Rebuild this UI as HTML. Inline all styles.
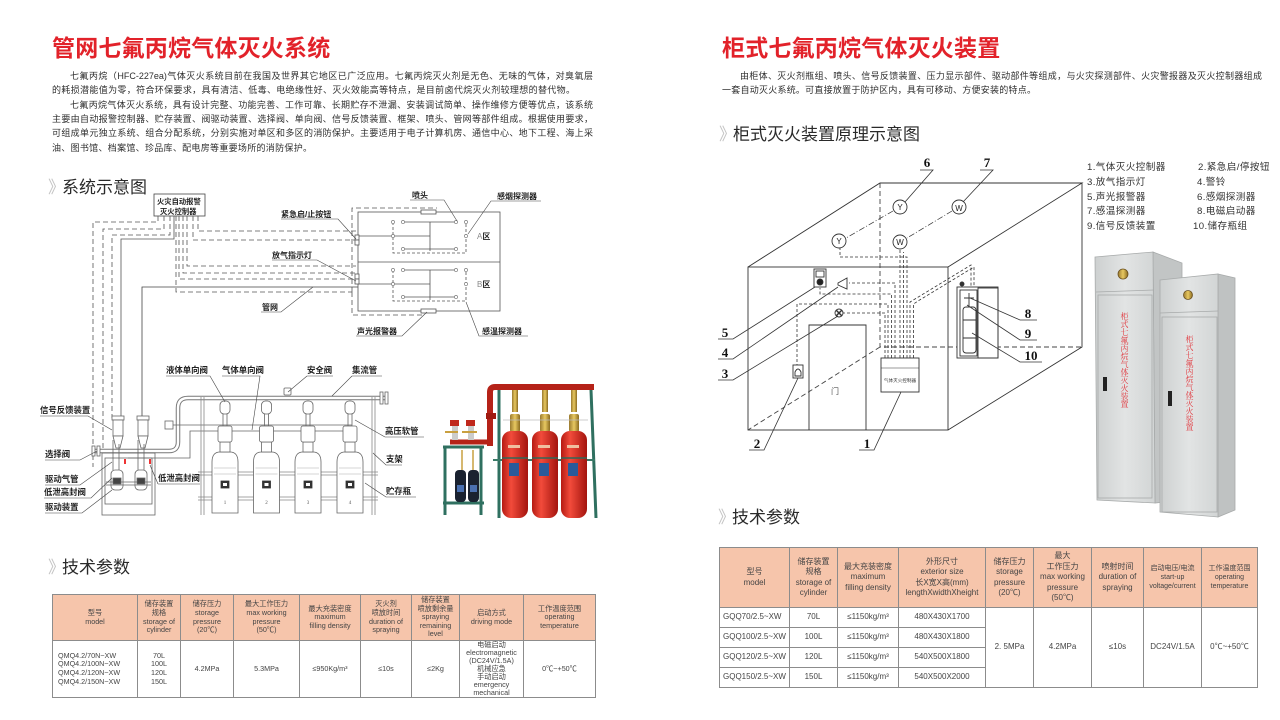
<!DOCTYPE html>
<html><head><meta charset="utf-8">
<style>
*{margin:0;padding:0;box-sizing:border-box}
body{width:1280px;height:720px;background:#fff;position:relative;overflow:hidden;font-family:"Liberation Sans","Noto Sans CJK SC",sans-serif;color:#333}
.title{position:absolute;top:35px;font-size:23px;font-weight:bold;color:#e2222a;line-height:26px;white-space:nowrap;letter-spacing:0.2px}
.pl{position:absolute;font-size:9px;line-height:11px;height:11px;color:#2e2e2e;white-space:nowrap;text-align:justify;text-align-last:justify}
.sec{position:absolute;font-size:17px;line-height:20px;color:#2a2a2a;white-space:nowrap}
.sec b{font-weight:normal;color:#c4c4c4;margin-right:-3px}
table{position:absolute;border-collapse:collapse;table-layout:fixed}
td{border:1px solid #8c8c8c;text-align:center;vertical-align:middle;color:#444;padding:0;white-space:nowrap;overflow:hidden}
.t1 td{font-size:7.2px;line-height:8.6px}
.t1 tr.h td{background:#f6c5ab;height:46px}
.t1 tr.b td{height:57px}
.t2 td{font-size:8px;line-height:10.5px}
.t2 tr.h td{background:#f6c5ab;height:60px}
.t2 tr.b td{height:20px}
.sm{font-size:7px!important;line-height:9px!important}
.lg{position:absolute;font-size:9.6px;line-height:12px;color:#333;white-space:nowrap;letter-spacing:0.4px}
.vt{position:absolute;writing-mode:vertical-rl;font-family:"Liberation Serif","Noto Serif CJK SC",serif;font-size:8px;line-height:8px;color:#e0343a;letter-spacing:0}
</style></head><body>

<div class="title" style="left:52px">管网七氟丙烷气体灭火系统</div>
<div class="title" style="left:722px">柜式七氟丙烷气体灭火装置</div>

<div class="pl" style="left:70px;top:71px;width:523px">七氟丙烷（HFC-227ea)气体灭火系统目前在我国及世界其它地区已广泛应用。七氟丙烷灭火剂是无色、无味的气体，对臭氧层</div>
<div class="pl" style="left:52px;top:85px;width:523px">的耗损潜能值为零，符合环保要求，具有清洁、低毒、电绝缘性好、灭火效能高等特点，是目前卤代烷灭火剂较理想的替代物。</div>
<div class="pl" style="left:70px;top:100px;width:523px">七氟丙烷气体灭火系统，具有设计完整、功能完善、工作可靠、长期贮存不泄漏、安装调试简单、操作维修方便等优点，该系统</div>
<div class="pl" style="left:52px;top:114px;width:541px">主要由自动报警控制器、贮存装置、阀驱动装置、选择阀、单向阀、信号反馈装置、框架、喷头、管网等部件组成。根据使用要求，</div>
<div class="pl" style="left:52px;top:128px;width:541px">可组成单元独立系统、组合分配系统，分别实施对单区和多区的消防保护。主要适用于电子计算机房、通信中心、地下工程、海上采</div>
<div class="pl" style="left:52px;top:143px;width:260px">油、图书馆、档案馆、珍品库、配电房等重要场所的消防保护。</div>

<div class="pl" style="left:740px;top:71px;width:522px">由柜体、灭火剂瓶组、喷头、信号反馈装置、压力显示部件、驱动部件等组成，与火灾探测部件、火灾警报器及灭火控制器组成</div>
<div class="pl" style="left:722px;top:85px;width:314px">一套自动灭火系统。可直接放置于防护区内，具有可移动、方便安装的特点。</div>

<div class="sec" style="left:48px;top:178px"><b>》</b>系统示意图</div>
<div class="sec" style="left:719px;top:125px"><b>》</b>柜式灭火装置原理示意图</div>
<div class="sec" style="left:48px;top:558px"><b>》</b>技术参数</div>
<div class="sec" style="left:718px;top:508px"><b>》</b>技术参数</div>

<!-- legend -->
<div class="lg" style="left:1087px;top:162px">1.气体灭火控制器</div>
<div class="lg" style="left:1198px;top:162px">2.紧急启/停按钮</div>
<div class="lg" style="left:1087px;top:177px">3.放气指示灯</div>
<div class="lg" style="left:1197px;top:177px">4.警铃</div>
<div class="lg" style="left:1087px;top:192px">5.声光报警器</div>
<div class="lg" style="left:1197px;top:192px">6.感烟探测器</div>
<div class="lg" style="left:1087px;top:206px">7.感温探测器</div>
<div class="lg" style="left:1197px;top:206px">8.电磁启动器</div>
<div class="lg" style="left:1087px;top:221px">9.信号反馈装置</div>
<div class="lg" style="left:1193px;top:221px">10.储存瓶组</div>

<svg width="1280" height="720" style="position:absolute;left:0;top:0" xmlns="http://www.w3.org/2000/svg">
<defs>
<linearGradient id="red" x1="0" x2="1"><stop offset="0" stop-color="#b51a12"/><stop offset="0.35" stop-color="#f24b3b"/><stop offset="1" stop-color="#a3140e"/></linearGradient>
<linearGradient id="cab" x1="0" x2="1"><stop offset="0" stop-color="#cdd0d0"/><stop offset="0.5" stop-color="#e2e4e4"/><stop offset="1" stop-color="#d2d5d5"/></linearGradient>
<linearGradient id="gold" x1="0" x2="1"><stop offset="0" stop-color="#9a7a30"/><stop offset="0.5" stop-color="#e8c860"/><stop offset="1" stop-color="#8a6a20"/></linearGradient>
</defs>

<!-- ============ LEFT UPPER DIAGRAM ============ -->
<g stroke="#555" stroke-width="0.8" fill="none">
 <rect x="154" y="194" width="51" height="22" stroke="#444" fill="#fff"/>
 <g stroke-dasharray="5,3">
  <path d="M158 216V222H93V467"/>
  <path d="M164 216V229H103V453"/>
  <path d="M170 216V235H112V418"/>
  <path d="M198 216V231H356"/>
  <path d="M193 216V240H356"/>
  <path d="M187 216V266H356"/>
  <path d="M183 216V273H356"/>
  <path d="M179 216V279H356"/>
  <path d="M176 216V292H352"/>
  <path d="M352 292V315H425"/>
  <path d="M352 292V208H437"/>
 </g>
 <path d="M174 216V239H121V418"/>
 <path d="M142 418V287H358" stroke="#444"/>
 <!-- zone box -->
 <rect x="358" y="212" width="142" height="99"/>
 <line x1="358" y1="262" x2="500" y2="262"/>
 <path d="M358 236H430M430 222V251M358 284H430M430 270V300"/>
 <g stroke-dasharray="3,2">
  <path d="M393 222V253H466V222"/>
  <path d="M393 270V301H466V270"/>
 </g>
 <path d="M403 222H456M403 249H456M403 270H456M403 297H456"/>
 <g fill="#fff" stroke="#666" stroke-width="0.6">
  <circle cx="393" cy="222" r="1.6"/><circle cx="403" cy="222" r="1.6"/><circle cx="456" cy="222" r="1.6"/><circle cx="466" cy="222" r="1.6"/>
  <circle cx="393" cy="236" r="1.6"/><circle cx="466" cy="236" r="1.6"/><circle cx="403" cy="249" r="1.6"/><circle cx="456" cy="249" r="1.6"/>
  <circle cx="393" cy="270" r="1.6"/><circle cx="403" cy="270" r="1.6"/><circle cx="456" cy="270" r="1.6"/><circle cx="466" cy="270" r="1.6"/>
  <circle cx="393" cy="284" r="1.6"/><circle cx="466" cy="284" r="1.6"/><circle cx="403" cy="297" r="1.6"/><circle cx="456" cy="297" r="1.6"/>
 </g>
 <rect x="421" y="210" width="15" height="4" fill="#fff"/>
 <rect x="421" y="309" width="15" height="4" fill="#fff"/>
 <rect x="355" y="235" width="4" height="5" fill="#fff"/><rect x="355" y="240" width="4" height="5" fill="#fff"/>
 <rect x="355" y="274" width="4" height="5" fill="#fff"/><rect x="355" y="279" width="4" height="5" fill="#fff"/>
 <!-- leaders -->
 <g stroke="#444" stroke-width="0.6">
  <path d="M410 200H444L457 221"/>
  <path d="M541 201H491L468 234"/>
  <path d="M281 219H338L356 239"/>
  <path d="M272 260H317L356 281"/>
  <path d="M261 312H281L313 287"/>
  <path d="M356 336H402L427 312"/>
  <path d="M528 336H479L466 302"/>
 </g>
</g>
<g font-family="Liberation Sans, Noto Sans CJK SC, sans-serif" font-size="8" font-weight="bold" fill="#222">
 <text x="157" y="204" font-size="7.3">火灾自动报警</text>
 <text x="160" y="214" font-size="7.3">灭火控制器</text>
 <text x="412" y="198">喷头</text>
 <text x="497" y="199">感烟探测器</text>
 <text x="281" y="217">紧急启/止按钮</text>
 <text x="272" y="258">放气指示灯</text>
 <text x="262" y="310">管网</text>
 <text x="357" y="334">声光报警器</text>
 <text x="482" y="334">感温探测器</text>
 <text x="477" y="239"><tspan font-weight="normal" fill="#888">A</tspan>区</text>
 <text x="477" y="287"><tspan font-weight="normal" fill="#888">B</tspan>区</text>
</g>

<!-- ============ LEFT LOWER DIAGRAM ============ -->
<g stroke="#666" stroke-width="0.8" fill="none">
 <!-- collector pipe -->
 <path d="M386 398H188Q178 398 178 408V442Q178 451 169 451H95" stroke="#777" stroke-width="4.5"/>
 <path d="M386 398H188Q178 398 178 408V442Q178 451 169 451H95" stroke="#fff" stroke-width="2.5"/>
 <rect x="380" y="392" width="3" height="12" fill="#fff"/><rect x="385" y="392" width="3" height="12" fill="#fff"/>
 <rect x="92" y="446" width="3" height="10" fill="#fff"/><rect x="97" y="446" width="3" height="10" fill="#fff"/>
 <rect x="284" y="388" width="7" height="7" rx="1" fill="#fff"/>
 <!-- gas lines -->
 <path d="M352 425H167M352 431H190V458H128"/>
 <rect x="165" y="421" width="8" height="8" fill="#fff"/>
 <!-- frame -->
 <path d="M201 397V515M204 397V515M372 397V515M375 397V515" stroke="#888"/>
 <path d="M198 472H378M198 475H378M198 497H378M198 500H378" stroke="#888"/>
 <!-- cylinders -->
 <g id="cy" fill="#fff">
  <path d="M212 513V462Q212 452 220 452H230Q238 452 238 462V513Z"/>
  <rect x="220" y="442" width="10" height="10"/>
  <rect x="218" y="426" width="14" height="16" rx="2"/>
  <path d="M223 413V426M227 413V426"/>
  <rect x="220" y="401" width="10" height="13" rx="4"/>
  <path d="M214 468H236M214 474H236" stroke="#aaa" stroke-width="0.5"/>
  <rect x="221" y="481" width="8" height="7" fill="#333" stroke="#333"/>
  <rect x="223" y="483" width="4" height="3" fill="#fff" stroke="none"/>
 </g>
 <use href="#cy" x="41.5"/><use href="#cy" x="83"/><use href="#cy" x="125"/>
 <!-- selection valves -->
 <g fill="#fff">
  <rect x="112" y="416" width="12" height="4"/><rect x="113" y="420" width="10" height="16"/><path d="M113 436H123L120 448H116Z"/>
  <rect x="137" y="416" width="12" height="4"/><rect x="138" y="420" width="10" height="16"/><path d="M138 436H148L145 448H141Z"/>
 </g>
 <rect x="124" y="459" width="2" height="5" fill="#e33" stroke="none"/>
 <rect x="149" y="459" width="2" height="5" fill="#e33" stroke="none"/>
 <!-- drive device -->
 <rect x="102" y="453" width="53" height="62" fill="none"/>
 <rect x="105" y="458" width="47" height="46"/>
 <rect x="111" y="470" width="12" height="20" rx="4" fill="#fff"/>
 <rect x="135" y="470" width="12" height="20" rx="4" fill="#fff"/>
 <path d="M106 482H151M106 485H151"/>
 <rect x="113" y="478" width="8" height="6" fill="#444"/><rect x="137" y="478" width="8" height="6" fill="#444"/>
 <path d="M113 440V470M119 444V470M138 440V470M144 444V470"/>
 <!-- leaders -->
 <g stroke="#444" stroke-width="0.6">
  <path d="M166 376H210L225 402"/>
  <path d="M222 376H260L252 430"/>
  <path d="M307 376H333"/><path d="M307 376L288 392"/>
  <path d="M352 376H382"/><path d="M352 376L332 396"/>
  <path d="M40 416H88L112 430"/>
  <path d="M45 460H80L97 451"/>
  <path d="M45 485H80L112 462"/>
  <path d="M44 498H91L112 478"/>
  <path d="M45 513H82L112 490"/>
  <path d="M158 484H200M158 484L150 465"/>
  <path d="M424 437H385L355 420"/>
  <path d="M402 465H386L373 453"/>
  <path d="M416 497H386L365 483"/>
 </g>
</g>
<g font-family="Liberation Sans, Noto Sans CJK SC, sans-serif" font-size="8.4" font-weight="bold" fill="#222">
 <text x="166" y="373">液体单向阀</text>
 <text x="222" y="373">气体单向阀</text>
 <text x="307" y="373">安全阀</text>
 <text x="352" y="373">集流管</text>
 <text x="40" y="413">信号反馈装置</text>
 <text x="385" y="434">高压软管</text>
 <text x="45" y="457">选择阀</text>
 <text x="386" y="462">支架</text>
 <text x="45" y="482">驱动气管</text>
 <text x="158" y="481">低泄高封阀</text>
 <text x="44" y="495">低泄高封阀</text>
 <text x="386" y="494">贮存瓶</text>
 <text x="45" y="510">驱动装置</text>
</g>
<g font-family="Liberation Serif, serif" font-size="5" fill="#555" text-anchor="middle">
 <text x="225" y="504">1</text><text x="266.5" y="504">2</text><text x="308" y="504">3</text><text x="350" y="504">4</text>
</g>

<!-- ============ LEFT PHOTO ============ -->
<g>
 <!-- green frames -->
 <path d="M445 447V515M481 447V515M443 447H484M443 503H484" stroke="#2f7060" stroke-width="3" fill="none"/>
 <path d="M499 390V518M591 390L596 518" stroke="#2f7060" stroke-width="3" fill="none"/>
 <path d="M493 460H595" stroke="#3a7a68" stroke-width="2"/>
 <!-- red pipes -->
 <path d="M490 446V392Q490 387 495 387H594" stroke="#b52218" stroke-width="6" fill="none"/>
 <path d="M490 442H450" stroke="#b52218" stroke-width="5" fill="none"/>
 <rect x="486" y="413" width="10" height="6" fill="#a01a10"/>
 <!-- selection valves -->
 <rect x="450" y="420" width="9" height="6" fill="#c0281c"/><rect x="466" y="420" width="9" height="6" fill="#c0281c"/>
 <rect x="452" y="426" width="6" height="14" fill="#ccc"/><rect x="468" y="426" width="6" height="14" fill="#ccc"/>
 <path d="M445 432H458M462 432H477" stroke="#c9a040" stroke-width="2"/>
 <!-- small black cylinders -->
 <rect x="455" y="470" width="11" height="32" rx="4" fill="#1a2230"/>
 <rect x="468" y="470" width="11" height="32" rx="4" fill="#1a2230"/>
 <rect x="457" y="485" width="7" height="7" fill="#4a70b0"/><rect x="470" y="485" width="7" height="7" fill="#4a70b0"/>
 <path d="M462 470V450M473 470V450" stroke="#c9a040" stroke-width="1.5"/>
 <!-- brass hoses -->
 <g fill="url(#gold)">
  <rect x="512" y="390" width="6" height="22"/><rect x="542" y="390" width="6" height="22"/><rect x="571" y="390" width="6" height="22"/>
  <rect x="510" y="414" width="10" height="18" rx="2"/><rect x="540" y="414" width="10" height="18" rx="2"/><rect x="569" y="414" width="10" height="18" rx="2"/>
 </g>
 <path d="M503 420H588" stroke="#bbb" stroke-width="0.8"/>
 <!-- red cylinders -->
 <rect x="502" y="431" width="26" height="87" rx="9" fill="url(#red)"/>
 <rect x="532" y="431" width="26" height="87" rx="9" fill="url(#red)"/>
 <rect x="561" y="431" width="26" height="87" rx="9" fill="url(#red)"/>
 <g fill="#2a5a9a"><rect x="509" y="463" width="10" height="13"/><rect x="539" y="463" width="10" height="13"/><rect x="568" y="463" width="10" height="13"/></g>
 <g stroke="#2f6858" stroke-width="1.5"><path d="M502 458H528M532 458H558M561 458H587"/></g>
 <g fill="#f0c0a0"><rect x="508" y="445" width="12" height="3"/><rect x="538" y="445" width="12" height="3"/><rect x="567" y="445" width="12" height="3"/></g>
</g>

<!-- ============ RIGHT DIAGRAM ============ -->
<g stroke="#333" stroke-width="0.9" fill="none">
 <rect x="748" y="267" width="200" height="163"/>
 <path d="M748 267L880 183H1082L948 267M1082 183V347L948 430"/>
 <g stroke-dasharray="5,3" stroke="#444">
  <path d="M880 183V347H1082M880 347L748 430"/>
 </g>
 <path d="M809 430V325H866V430"/>
 <rect x="881" y="358" width="38" height="34" fill="#fff"/>
 <line x1="881" y1="368" x2="919" y2="368" stroke-width="0.5"/>
 <!-- wires -->
 <g stroke-dasharray="3,2" stroke-width="0.8">
  <path d="M885 358V313H843"/>
  <path d="M888 358V304H797V365"/>
  <path d="M891.5 358V294H820V288"/>
  <path d="M895 358V283H849"/>
  <path d="M900 358V250"/>
  <path d="M903.5 358V252"/>
  <path d="M907 358V257H840V248"/>
  <path d="M910 358V302L915 299L971 265V287"/>
  <path d="M913.5 358V304L918 301L974 267V287"/>
 </g>
 <g stroke-dasharray="6,2,1,2" stroke-width="0.7">
  <path d="M893 211L846 238"/>
  <path d="M952 211L907 238"/>
 </g>
 <g fill="#fff">
  <circle cx="900" cy="207" r="7"/><circle cx="839" cy="241" r="7"/>
  <circle cx="959" cy="207" r="7"/><circle cx="900" cy="242" r="7"/>
 </g>
 <!-- devices -->
 <rect x="814" y="269" width="12" height="18" fill="#fff"/>
 <rect x="816" y="271" width="8" height="6"/>
 <circle cx="820" cy="282" r="3" fill="#222"/>
 <path d="M838 283L847 278V289L838 285Z" fill="#fff"/>
 <circle cx="839" cy="313" r="4" fill="#fff"/>
 <path d="M836 310L842 316M842 310L836 316" stroke-width="1.5"/>
 <rect x="793" y="365" width="10" height="13" fill="#fff"/>
 <path d="M795 372Q798 366 801 372V376H795Z"/>
 <!-- cabinet -->
 <rect x="957" y="287" width="41" height="71" fill="#fff"/>
 <rect x="960" y="290" width="17" height="66"/>
 <rect x="978" y="288" width="20" height="70"/>
 <rect x="963" y="307" width="13" height="46" rx="3"/>
 <path d="M963 320H976M963 338H976"/>
 <path d="M969 293V307M964 298H974"/>
 <circle cx="962" cy="284" r="2" fill="#333"/>
 <!-- leaders -->
 <g stroke-width="0.8">
  <path d="M920 170H933L905 202"/>
  <path d="M980 170H993L963 202"/>
  <path d="M718 339H733L815 287"/>
  <path d="M718 359H733L838 287"/>
  <path d="M718 380H733L838 316"/>
  <path d="M749 450H764L798 378"/>
  <path d="M859 450H874L901 392"/>
  <path d="M1037 320H1020L970 298"/>
  <path d="M1037 340H1020L967 305"/>
  <path d="M1042 362H1020L972 333"/>
 </g>
</g>
<g font-family="Liberation Serif, serif" font-weight="bold" font-size="13" fill="#111" text-anchor="middle">
 <text x="927" y="167">6</text><text x="987" y="167">7</text>
 <text x="725" y="337">5</text><text x="725" y="357">4</text><text x="725" y="378">3</text>
 <text x="757" y="448">2</text><text x="867" y="448">1</text>
 <text x="1028" y="318">8</text><text x="1028" y="338">9</text><text x="1031" y="360">10</text>
</g>
<g font-family="Liberation Sans, sans-serif" font-size="8" fill="#222" text-anchor="middle">
 <text x="900" y="210">Y</text><text x="839" y="244">Y</text>
 <text x="959" y="211">W</text><text x="900" y="245">W</text>
</g>
<text x="831" y="394" font-family="Liberation Sans, Noto Sans CJK SC, sans-serif" font-size="8" fill="#555">门</text>
<text x="900" y="382" font-family="Liberation Sans, Noto Sans CJK SC, sans-serif" font-size="4.6" fill="#333" text-anchor="middle">气体灭火控制器</text>

<!-- ============ RIGHT CABINET PHOTO ============ -->
<g stroke="#a8abab" stroke-width="0.8">
 <polygon points="1153,252 1182,263 1182,500 1155,503" fill="#c2c5c5"/>
 <polygon points="1095,257 1153,252 1155,503 1097,500" fill="url(#cab)"/>
 <line x1="1096" y1="292" x2="1154" y2="290"/>
 <rect x="1098" y="295" width="54" height="203" fill="none"/>
 <circle cx="1123" cy="274" r="5" fill="url(#gold)" stroke="#6a5020"/>
 <rect x="1103" y="377" width="4" height="14" fill="#222" stroke="none"/>
 <polygon points="1218,274 1235,278 1235,510 1218,517" fill="#bfc2c2"/>
 <polygon points="1160,280 1218,274 1218,517 1160,512" fill="url(#cab)"/>
 <line x1="1160" y1="313" x2="1218" y2="311"/>
 <rect x="1162" y="317" width="55" height="195" fill="none"/>
 <circle cx="1188" cy="295" r="4.5" fill="url(#gold)" stroke="#6a5020"/>
 <rect x="1168" y="391" width="4" height="15" fill="#222" stroke="none"/>
</g>
</svg>

<div class="vt" style="left:1120px;top:312px">柜式七氟丙烷气体灭火装置</div>
<div class="vt" style="left:1185px;top:335px">柜式七氟丙烷气体灭火装置</div>

<!-- LEFT TABLE -->
<table class="t1" style="left:52px;top:594px;width:543px">
<colgroup><col style="width:85px"><col style="width:43px"><col style="width:53px"><col style="width:66px"><col style="width:61px"><col style="width:51px"><col style="width:48px"><col style="width:64px"><col style="width:72px"></colgroup>
<tr class="h">
<td>型号<br>model</td>
<td>储存装置<br>规格<br>storage of<br>cylinder</td>
<td>储存压力<br>storage<br>pressure<br>(20℃)</td>
<td>最大工作压力<br>max working<br>pressure<br>(50℃)</td>
<td>最大充装密度<br>maximum<br>filling density</td>
<td>灭火剂<br>喷放时间<br>duration of<br>spraying</td>
<td>储存装置<br>喷放剩余量<br>spraying<br>remaining<br>level</td>
<td>启动方式<br>driving mode</td>
<td>工作温度范围<br>operating<br>temperature</td>
</tr>
<tr class="b">
<td style="text-align:left;padding-left:5px">QMQ4.2/70N~XW<br>QMQ4.2/100N~XW<br>QMQ4.2/120N~XW<br>QMQ4.2/150N~XW</td>
<td>70L<br>100L<br>120L<br>150L</td>
<td>4.2MPa</td>
<td>5.3MPa</td>
<td>≤950Kg/m³</td>
<td>≤10s</td>
<td>≤2Kg</td>
<td style="line-height:8px">电磁启动<br>electromagnetic<br>(DC24V/1.5A)<br>机械应急<br>手动启动<br>emergency<br>mechanical</td>
<td>0℃~+50℃</td>
</tr>
</table>

<!-- RIGHT TABLE -->
<table class="t2" style="left:719px;top:547px;width:538px">
<colgroup><col style="width:70px"><col style="width:48px"><col style="width:61px"><col style="width:87px"><col style="width:48px"><col style="width:58px"><col style="width:52px"><col style="width:58px"><col style="width:56px"></colgroup>
<tr class="h">
<td>型号<br>model</td>
<td>储存装置<br>规格<br>storage of<br>cylinder</td>
<td>最大充装密度<br>maximum<br>filling density</td>
<td>外形尺寸<br>exterior size<br>长X宽X高(mm)<br>lengthXwidthXheight</td>
<td>储存压力<br>storage<br>pressure<br>(20℃)</td>
<td>最大<br>工作压力<br>max working<br>pressure<br>(50℃)</td>
<td>喷射时间<br>duration of<br>spraying</td>
<td class="sm">启动电压/电流<br>start-up<br>voltage/current</td>
<td class="sm">工作温度范围<br>operating<br>temperature</td>
</tr>
<tr class="b">
<td style="text-align:left;padding-left:3px">GQQ70/2.5~XW</td><td>70L</td><td>≤1150kg/m³</td><td>480X430X1700</td>
<td rowspan="4">2. 5MPa</td><td rowspan="4">4.2MPa</td><td rowspan="4">≤10s</td><td rowspan="4">DC24V/1.5A</td><td rowspan="4">0℃~+50℃</td>
</tr>
<tr class="b"><td style="text-align:left;padding-left:3px">GQQ100/2.5~XW</td><td>100L</td><td>≤1150kg/m³</td><td>480X430X1800</td></tr>
<tr class="b"><td style="text-align:left;padding-left:3px">GQQ120/2.5~XW</td><td>120L</td><td>≤1150kg/m³</td><td>540X500X1800</td></tr>
<tr class="b"><td style="text-align:left;padding-left:3px">GQQ150/2.5~XW</td><td>150L</td><td>≤1150kg/m³</td><td>540X500X2000</td></tr>
</table>

</body></html>
